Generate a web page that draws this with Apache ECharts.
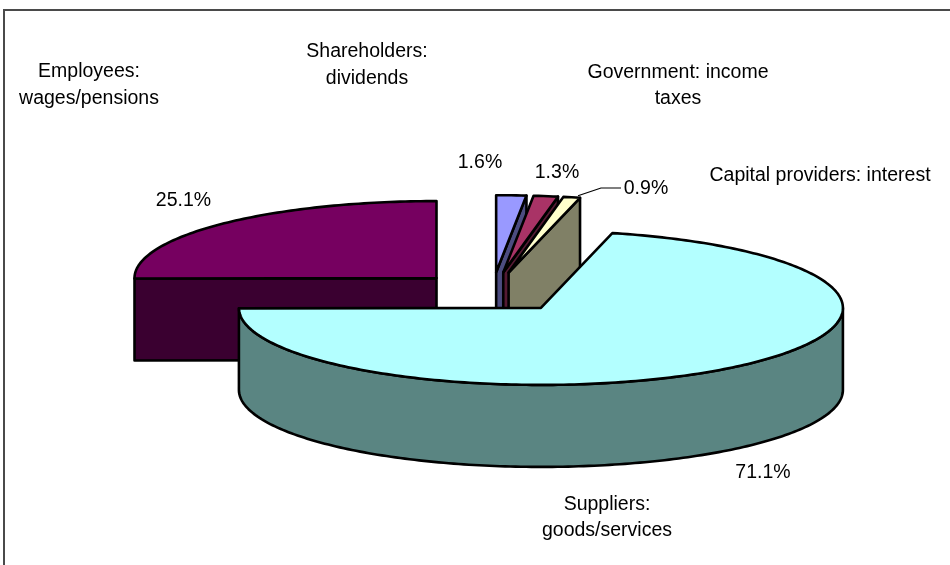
<!DOCTYPE html>
<html>
<head>
<meta charset="utf-8">
<script src="https://cdn.jsdelivr.net/npm/echarts@6/dist/echarts.min.js"></script>
<style>
  html, body { margin: 0; padding: 0; background: #ffffff; }
  #chart { width: 950px; height: 565px; }
</style>
</head>
<body>
<div id="chart"></div>
<script>
// ---- data ----
const categories = [
  'Shareholders:\ndividends',
  'Government: income\ntaxes',
  'Capital providers: interest',
  'Suppliers:\ngoods/services',
  'Employees:\nwages/pensions'
];
const values = [1.6, 1.3, 0.9, 71.1, 25.1];
const topColors  = ['#9999FF', '#A93366', '#FFFFCC', '#B3FFFF', '#760060'];
const sideColors = ['#4C4C80', '#551A33', '#808066', '#5A8582', '#3A0030'];

// ---- layout (3D pie projection) ----
const CX = 492.2, CY = 292.2, RX = 302, RY = 77, DEPTH = 82, EXPLODE = 0.26;
const FONT = '19.5px "Liberation Sans", Arial, sans-serif';

const total = values.reduce((a, b) => a + b, 0);
let acc = 0;
const slices = values.map((v, i) => {
  const a1 = acc / total * Math.PI * 2;
  acc += v;
  const a2 = acc / total * Math.PI * 2;
  const mid = (a1 + a2) / 2;
  const ox = CX + EXPLODE * RX * Math.sin(mid);
  const oy = CY - EXPLODE * RY * Math.cos(mid);
  return { a1, a2, ox, oy, i };
});
// painter order: farther (smaller vertex y) first
const order = slices.slice().sort((p, q) => p.oy - q.oy).map(s => s.i);

function pt(s, a, dz) {
  return [s.ox + RX * Math.sin(a), s.oy - RY * Math.cos(a) + dz];
}
function arc(s, from, to, dz) {
  const n = Math.max(2, Math.ceil((to - from) / (Math.PI / 180)));
  const out = [];
  for (let k = 0; k <= n; k++) out.push(pt(s, from + (to - from) * k / n, dz));
  return out;
}

const strokeStyle = { stroke: '#000', lineWidth: 2.6, lineJoin: 'round' };

function renderItem(params, api) {
  const i = params.dataIndex;
  const s = slices[i];
  const rank = order.indexOf(i);
  const children = [];
  const v0 = [s.ox, s.oy], v1 = [s.ox, s.oy + DEPTH];
  let k = 0;
  // radial face at start angle
  if (Math.sin(s.a1) < -1e-6) {
    children.push({ type: 'polygon', z2: rank * 10 + (k++),
      shape: { points: [v0, pt(s, s.a1, 0), pt(s, s.a1, DEPTH), v1] },
      style: Object.assign({ fill: sideColors[i] }, strokeStyle) });
  }
  // radial face at end angle
  if (Math.sin(s.a2) > 1e-6) {
    children.push({ type: 'polygon', z2: rank * 10 + (k++),
      shape: { points: [v0, pt(s, s.a2, 0), pt(s, s.a2, DEPTH), v1] },
      style: Object.assign({ fill: sideColors[i] }, strokeStyle) });
  }
  // outer curved side (front half only)
  const fs = Math.max(s.a1, Math.PI / 2), fe = Math.min(s.a2, Math.PI * 1.5);
  if (fe - fs > 0.02) {
    const top = arc(s, fs, fe, 0);
    const bot = arc(s, fs, fe, DEPTH).reverse();
    children.push({ type: 'polygon', z2: rank * 10 + (k++),
      shape: { points: top.concat(bot) },
      style: Object.assign({ fill: sideColors[i] }, strokeStyle) });
  }
  // top face
  children.push({ type: 'polygon', z2: rank * 10 + (k++),
    shape: { points: [v0].concat(arc(s, s.a1, s.a2, 0)) },
    style: Object.assign({ fill: topColors[i] }, strokeStyle) });
  return { type: 'group', children };
}

function pctText(v) { return v.toFixed(1) + '%'; }

// label anchor positions (text placement only)
const nameAnchors = [[367, 65], [678, 85.5], [820, 175.5], [607, 517.5], [89, 85]];
const pctAnchors  = [[480, 163], [557, 173], [646, 189], [763, 473], [183.5, 201]];

const graphics = [
  { type: 'rect', shape: { x: 4, y: 10, width: 1000, height: 1000 },
    style: { fill: 'none', stroke: '#4a4a4a', lineWidth: 2 }, silent: true }
];
categories.forEach((c, i) => {
  graphics.push({ type: 'text', x: nameAnchors[i][0], y: nameAnchors[i][1], z: 10,
    style: { text: c, font: FONT, fill: '#000', align: 'center', verticalAlign: 'middle', lineHeight: 26.5 } });
  graphics.push({ type: 'text', x: pctAnchors[i][0], y: pctAnchors[i][1], z: 10,
    style: { text: pctText(values[i]), font: FONT, fill: '#000', align: 'center', verticalAlign: 'middle' } });
});
// leader line for the smallest slice label
(function () {
  const s = slices[2];
  const p = pt(s, s.a2, 0);
  graphics.push({ type: 'polyline', z: 10,
    shape: { points: [[p[0] - 2, p[1] - 2], [601, 188], [621, 188]] },
    style: { stroke: '#000', lineWidth: 1.2, fill: 'none' } });
})();

const chart = echarts.init(document.getElementById('chart'), null, { renderer: 'canvas' });
chart.setOption({
  animation: false,
  backgroundColor: '#ffffff',
  graphic: graphics,
  series: [{
    type: 'custom',
    coordinateSystem: 'none',
    renderItem: renderItem,
    data: values.map((v, i) => [i, v]),
    silent: true
  }]
});
</script>
</body>
</html>
